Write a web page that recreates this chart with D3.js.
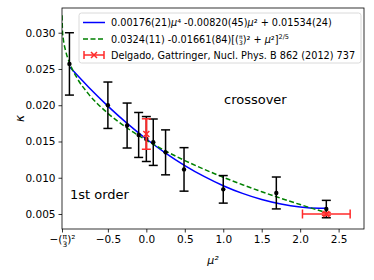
<!DOCTYPE html>
<html>
<head>
<meta charset="utf-8">
<script src="https://cdn.jsdelivr.net/npm/d3@7"></script>
<style>
  body { margin: 0; background: #fff; }
  text { font-family: "DejaVu Sans", sans-serif; }
</style>
</head>
<body>
<svg id="svg"></svg>
<script>
// lattice points (mu^2, kappa, error)
const muSq = [-1.0, -0.5, -0.25, -0.1, 0.0, 0.09, 0.25, 0.49, 1.0, 1.69, 2.34];
const kappa = [0.0257, 0.0200, 0.0172, 0.0159, 0.01534, 0.0149, 0.0135, 0.01115, 0.0084, 0.0079, 0.00568];
const kappaErr = [0.0043, 0.0032, 0.0031, 0.0031, 0.0031, 0.0032, 0.0031, 0.0030, 0.0019, 0.0022, 0.0012];

// Delgado, Gattringer
const delgadoMu = [0.0, 2.34];
const delgadoK = [0.01603, 0.0050];
const delgadoKErr = [0.0021, 0.0002];
const delgadoMuErr = [0.0, 0.31];

// fit curves
const polyMu = [-1.0, -0.75, -0.5, -0.25, 0.0, 0.25, 0.5, 0.75, 1.0, 1.25, 1.5, 1.75, 2.0, 2.25, 2.35];
const polyK = [0.0253, 0.02248, 0.01988, 0.0175, 0.01534, 0.0134, 0.01168, 0.01018, 0.0089, 0.00784, 0.0070, 0.00638, 0.00598, 0.0058, 0.00579];
const powMu = [-1.0966, -1.09, -1.08, -1.05, -1.0, -0.9, -0.75, -0.5, -0.25, 0.0, 0.25, 0.5, 0.75, 1.0, 1.25, 1.5, 1.75, 2.0, 2.25, 2.35];
const powK = [0.0324, 0.03017, 0.02917, 0.02753, 0.02588, 0.02373, 0.02153, 0.01889, 0.01686, 0.01517, 0.01369, 0.01237, 0.01117, 0.01007, 0.00904, 0.00807, 0.00716, 0.0063, 0.00547, 0.00515];

const xTicks = [-1.0966, -0.5, 0.0, 0.5, 1.0, 1.5, 2.0, 2.5];
const yTicks = [0.005, 0.010, 0.015, 0.020, 0.025, 0.030];

const W = 374, H = 280;
const margin = { top: 8, right: 10, bottom: 51, left: 62 };

const svg = d3.select('#svg').attr('width', W).attr('height', H);

const x = d3.scaleLinear().domain([-1.0966, 2.83]).range([margin.left, W - margin.right]);
const y = d3.scaleLinear().domain([0.00293, 0.03341]).range([H - margin.bottom, margin.top]);

// CURVES
const line = d3.line().x(d => x(d[0])).y(d => y(d[1])).curve(d3.curveMonotoneX);

svg.append('defs').append('clipPath').attr('id', 'clip')
  .append('rect')
  .attr('x', margin.left).attr('y', margin.top)
  .attr('width', W - margin.left - margin.right)
  .attr('height', H - margin.top - margin.bottom);

const plot = svg.append('g').attr('clip-path', 'url(#clip)');

plot.append('path')
  .datum(polyMu.map((m, i) => [m, polyK[i]]))
  .attr('d', line)
  .attr('fill', 'none')
  .attr('stroke', '#0000ff')
  .attr('stroke-width', 1.5);

plot.append('path')
  .datum(powMu.map((m, i) => [m, powK[i]]))
  .attr('d', line)
  .attr('fill', 'none')
  .attr('stroke', '#008000')
  .attr('stroke-width', 1.5)
  .attr('stroke-dasharray', '5,2.5');

// BLACK ERROR BARS
const cap = 4.5;
const pts = muSq.map((m, i) => ({ m, k: kappa[i], e: kappaErr[i] }));
const bars = plot.append('g').attr('stroke', '#000').attr('stroke-width', 1.5);
pts.forEach(d => {
  bars.append('line')
    .attr('x1', x(d.m)).attr('x2', x(d.m))
    .attr('y1', y(d.k - d.e)).attr('y2', y(d.k + d.e));
  [d.k - d.e, d.k + d.e].forEach(v => {
    bars.append('line')
      .attr('x1', x(d.m) - cap).attr('x2', x(d.m) + cap)
      .attr('y1', y(v)).attr('y2', y(v));
  });
});
plot.selectAll('.dot').data(pts).enter().append('circle')
  .attr('cx', d => x(d.m)).attr('cy', d => y(d.k))
  .attr('r', 2.2).attr('fill', '#000');

// RED POINTS
const red = '#ff2a2a';
const rg = plot.append('g').attr('stroke', red).attr('stroke-width', 1.5);
delgadoMu.forEach((m, i) => {
  const k = delgadoK[i], ek = delgadoKErr[i], em = delgadoMuErr[i];
  rg.append('line').attr('x1', x(m)).attr('x2', x(m))
    .attr('y1', y(k - ek)).attr('y2', y(k + ek)).attr('stroke-width', 2);
  [k - ek, k + ek].forEach(v => {
    rg.append('line').attr('x1', x(m) - cap).attr('x2', x(m) + cap)
      .attr('y1', y(v)).attr('y2', y(v));
  });
  if (em > 0) {
    rg.append('line').attr('x1', x(m - em)).attr('x2', x(m + em))
      .attr('y1', y(k)).attr('y2', y(k));
    [m - em, m + em].forEach(v => {
      rg.append('line').attr('x1', x(v)).attr('x2', x(v))
        .attr('y1', y(k) - cap).attr('y2', y(k) + cap);
    });
  }
  const s = 3;
  rg.append('path')
    .attr('d', `M${x(m) - s},${y(k) - s}L${x(m) + s},${y(k) + s}M${x(m) - s},${y(k) + s}L${x(m) + s},${y(k) - s}`)
    .attr('stroke-width', 1.5);
});

// AXES
const xAxis = svg.append('g')
  .attr('transform', `translate(0, ${H - margin.bottom})`)
  .call(d3.axisBottom(x).tickValues(xTicks).tickSize(3.5).tickPadding(3)
    .tickFormat(d => d3.format('.1f')(d).replace('-', '−')));
const yAxis = svg.append('g')
  .attr('transform', `translate(${margin.left}, 0)`)
  .call(d3.axisLeft(y).tickValues(yTicks).tickSize(3.5).tickPadding(3)
    .tickFormat(d3.format('.3f')));

[xAxis, yAxis].forEach(a => {
  a.select('.domain').remove();
  a.selectAll('text').attr('font-size', 10.5).attr('font-family', 'DejaVu Sans').attr('fill', '#000');
  a.selectAll('line').attr('stroke', '#000').attr('stroke-width', 0.8);
});

// first x tick: -(pi/3)^2
const first = xAxis.select('.tick text').text(null);
first.append('tspan').text('−(');
first.append('tspan').attr('font-size', 7.5).attr('dy', -4).text('π');
first.append('tspan').attr('font-size', 7.5).attr('dx', -4.5).attr('dy', 8).text('3');
first.append('tspan').attr('dy', -4).text(')²');

// frame
svg.append('rect')
  .attr('x', margin.left).attr('y', margin.top)
  .attr('width', W - margin.left - margin.right)
  .attr('height', H - margin.top - margin.bottom)
  .attr('fill', 'none').attr('stroke', '#000').attr('stroke-width', 0.8);

// AXIS LABELS
svg.append('text')
  .attr('x', (margin.left + W - margin.right) / 2).attr('y', 264)
  .attr('text-anchor', 'middle').attr('font-size', 11).attr('font-style', 'italic')
  .text('μ²');
svg.append('text')
  .attr('transform', `translate(24, ${(margin.top + H - margin.bottom) / 2}) rotate(-90)`)
  .attr('text-anchor', 'middle').attr('font-size', 12).attr('font-style', 'italic')
  .text('κ');

// REGION LABELS
svg.append('text').attr('x', 224).attr('y', 104).attr('font-size', 13).text('crossover');
svg.append('text').attr('x', 70).attr('y', 199).attr('font-size', 13).text('1st order');

// LEGEND
const lg = svg.append('g');
lg.append('rect')
  .attr('x', 79).attr('y', 13).attr('width', 282).attr('height', 50).attr('rx', 2.5)
  .attr('fill', '#fff').attr('fill-opacity', 0.8)
  .attr('stroke', '#d0d0d0').attr('stroke-width', 0.8);

lg.append('line').attr('x1', 83).attr('x2', 105).attr('y1', 22.5).attr('y2', 22.5)
  .attr('stroke', '#0000ff').attr('stroke-width', 1.5);
lg.append('line').attr('x1', 83).attr('x2', 105).attr('y1', 39).attr('y2', 39)
  .attr('stroke', '#008000').attr('stroke-width', 1.5).attr('stroke-dasharray', '5,2.5');
const ly = 55;
lg.append('line').attr('x1', 84).attr('x2', 104).attr('y1', ly).attr('y2', ly).attr('stroke', red).attr('stroke-width', 1.5);
[84, 104].forEach(v => lg.append('line').attr('x1', v).attr('x2', v).attr('y1', ly - 4).attr('y2', ly + 4).attr('stroke', red).attr('stroke-width', 1.5));
lg.append('path').attr('d', `M91,${ly - 3}L97,${ly + 3}M91,${ly + 3}L97,${ly - 3}`).attr('stroke', red).attr('stroke-width', 1.5);

const fs = 9.7;
const t1 = lg.append('text').attr('x', 111).attr('y', 26).attr('font-size', fs);
t1.append('tspan').text('0.00176(21)');
t1.append('tspan').attr('font-style', 'italic').text('μ');
t1.append('tspan').text('⁴ -0.00820(45)');
t1.append('tspan').attr('font-style', 'italic').text('μ');
t1.append('tspan').text('² + 0.01534(24)');

const t2 = lg.append('text').attr('x', 111).attr('y', 42.5).attr('font-size', fs);
t2.append('tspan').text('0.0324(11) -0.01661(84)[(');
t2.append('tspan').attr('font-size', 6).attr('dy', -3.5).text('π');
t2.append('tspan').attr('font-size', 6).attr('dx', -3.6).attr('dy', 6).text('3');
t2.append('tspan').attr('dy', -2.5).text(')² + ');
t2.append('tspan').attr('font-style', 'italic').text('μ');
t2.append('tspan').text('²]');
t2.append('tspan').attr('font-size', 6.5).attr('dy', -3.5).text('2/5');

lg.append('text').attr('x', 111).attr('y', 58.5).attr('font-size', fs)
  .text('Delgado, Gattringer, Nucl. Phys. B 862 (2012) 737');
</script>
</body>
</html>
